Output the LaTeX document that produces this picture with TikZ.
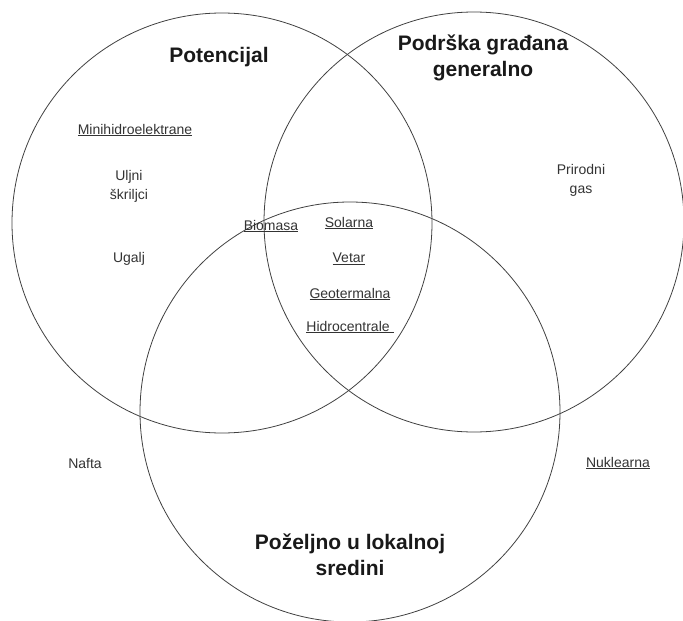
\documentclass[tikz,border=0pt]{standalone}
\usepackage{fontspec}
\setmainfont{Liberation Sans}
\usetikzlibrary{positioning}

\begin{document}
\begin{tikzpicture}[x=1pt,y=-1pt]
	\useasboundingbox (0,0) rectangle (683,621);
	\begin{scope}[every node/.style={circle, draw=black!75, line width=0.8pt, minimum size=420pt, inner sep=0pt}]
		\node (1) at (222,223) {};
		\node (2) at (474,222) {};
		\node (3) at (350,412) {};
	\end{scope}

	\begin{scope}[every node/.style={align=center, text=black!90, font=\fontsize{21}{25.5}\selectfont\bfseries}]
		\node (pot) at (219,57) {Potencijal};
		\node (pod) at (483,58) {Podrška građana\\generalno};
		\node (loc) at (350,555) {Poželjno u lokalnoj\\sredini};
	\end{scope}

	\begin{scope}[every node/.style={align=center, text=black!80, font=\fontsize{14}{19}\selectfont}]
		\node (mini) at (135,130) {\underline{Minihidroelektrane}};
		\node (ulj) at (129,186) {Uljni\\škriljci};
		\node (uga) at (129,259) {Ugalj};
		\node (bio) at (271,226) {\underline{Biomasa}};
		\node (sol) at (349,223) {\underline{Solarna}};
		\node (vet) at (349,259) {\underline{Vetar}};
		\node (geo) at (350,294) {\underline{Geotermalna}};
		\node (hid) at (350,327) {\underline{Hidrocentrale\ }};
		\node (gas) at (581,180) {Prirodni\\gas};
		\node (naf) at (85,463) {Nafta};
		\node (nuk) at (618,463) {\underline{Nuklearna}};
	\end{scope}
\end{tikzpicture}
\end{document}
